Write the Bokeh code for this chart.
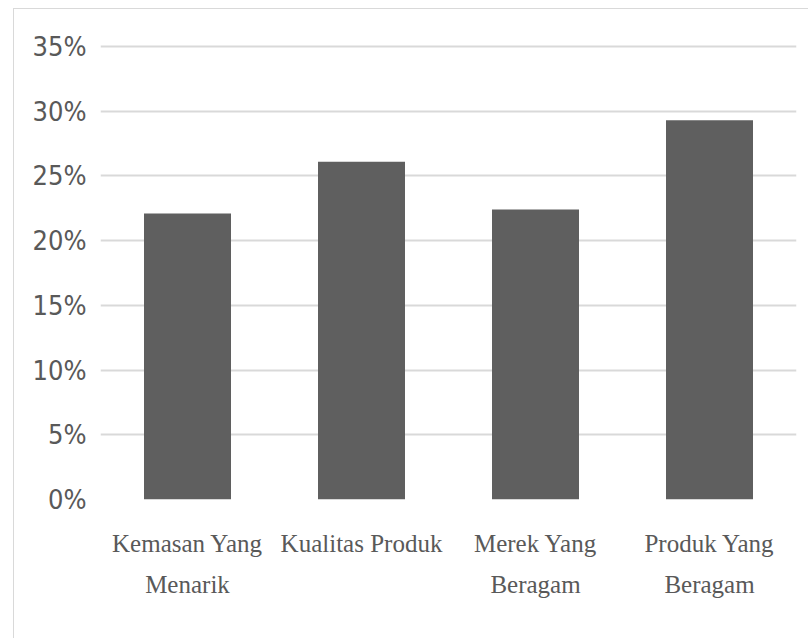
from bokeh.plotting import figure
from bokeh.models import FixedTicker, NumeralTickFormatter
from bokeh.embed import file_html
from bokeh.resources import INLINE

# Share of respondents by purchase reason
categories = ["Kemasan Yang\nMenarik", "Kualitas Produk", "Merek Yang\nBeragam", "Produk Yang\nBeragam"]
shares = [0.221, 0.261, 0.224, 0.293]
y_ticks = [0.0, 0.05, 0.10, 0.15, 0.20, 0.25, 0.30, 0.35]

p = figure(
    x_range=categories,
    y_range=(0, 0.36),
    width=795,
    height=630,
    output_backend="svg",
    toolbar_location=None,
    min_border_left=86,
    min_border_right=13,
    min_border_top=24,
    min_border_bottom=140,
)
# thin light frame along the top and left of the chart
p.margin = (8, 0, 0, 13)
p.styles = {"border-top": "1px solid #d9d9d9", "border-left": "1px solid #d9d9d9"}

p.vbar(x=categories, top=shares, width=0.5, fill_color="#5f5f5f", line_color=None)

p.outline_line_color = None
p.background_fill_color = "white"
p.border_fill_color = "white"

p.xgrid.grid_line_color = None
p.ygrid.grid_line_color = "#d9d9d9"
p.ygrid.grid_line_width = 2

p.yaxis.ticker = FixedTicker(ticks=y_ticks)
p.yaxis.formatter = NumeralTickFormatter(format="0%")
p.yaxis.axis_line_color = None
p.yaxis.major_tick_line_color = None
p.yaxis.minor_tick_line_color = None
p.yaxis.major_tick_out = 0
p.yaxis.major_label_standoff = 14
p.yaxis.major_label_text_font = "DejaVu Sans Condensed"
p.yaxis.major_label_text_font_size = "27px"
p.yaxis.major_label_text_color = "#595959"

p.xaxis.axis_line_color = None
p.xaxis.major_tick_line_color = None
p.xaxis.major_tick_out = 0
p.xaxis.major_label_standoff = 30
p.xaxis.major_label_text_font = "Liberation Serif"
p.xaxis.major_label_text_font_size = "25px"
p.xaxis.major_label_text_color = "#595959"
p.xaxis.major_label_text_line_height = 1.55

open("out.html", "w").write(file_html(p, INLINE))
